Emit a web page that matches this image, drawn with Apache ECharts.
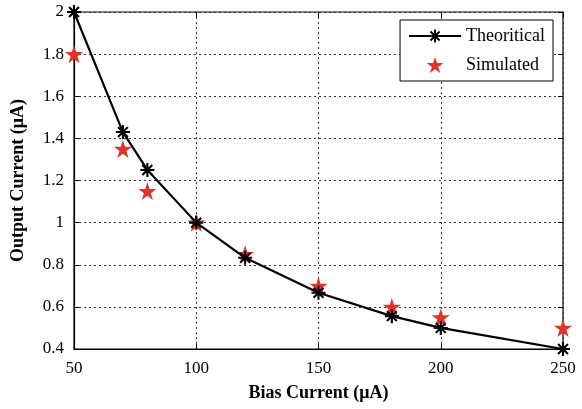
<!DOCTYPE html>
<html>
<head>
<meta charset="utf-8">
<script src="https://cdn.jsdelivr.net/npm/echarts@6/dist/echarts.min.js"></script>
<style>html,body{margin:0;padding:0;background:#fff}#c{width:582px;height:409px}</style>
</head>
<body>
<div id="c"></div>
<script>
const biasCurrent = [50, 70, 80, 100, 120, 150, 180, 200, 250];
const theoretical = [2.0, 1.43, 1.25, 1.0, 0.833, 0.667, 0.556, 0.5, 0.4];
const simulated = [1.8, 1.35, 1.15, 1.0, 0.85, 0.70, 0.60, 0.55, 0.50];
const xTicks = [50, 100, 150, 200, 250];
const yTicks = [0.4, 0.6, 0.8, 1, 1.2, 1.4, 1.6, 1.8, 2];

const asterisk = 'path://M-1.5,-10 L1.5,-10 L1.5,10 L-1.5,10 Z M-10,-1.5 L10,-1.5 L10,1.5 L-10,1.5 Z ' +
  'M-6,-8.1 L8.1,6 L6,8.1 L-8.1,-6 Z M-6,8.1 L-8.1,6 L6,-8.1 L8.1,-6 Z';
const star = 'path://M0,-100 L22.45,-30.9 L95.11,-30.9 L36.33,11.8 L58.78,80.9 L0,38.2 L-58.78,80.9 L-36.33,11.8 L-95.11,-30.9 L-22.45,-30.9 Z';

const font = 'Liberation Serif';
const chart = echarts.init(document.getElementById('c'), null, {renderer: 'canvas'});
const split = {show: true, lineStyle: {color: '#333', type: [2, 3], width: 1}};
const tick = {show: true, inside: true, length: 5, lineStyle: {color: '#000'}};
const label = {color: '#000', fontFamily: font, fontSize: 17};
chart.setOption({
  animation: false,
  grid: {left: 74, right: 19, top: 12, bottom: 60, show: true, borderColor: '#000', borderWidth: 1.2},
  legend: {
    right: 29, top: 20, orient: 'vertical', backgroundColor: '#fff',
    borderColor: '#000', borderWidth: 1, padding: [7, 8, 7, 8], itemGap: 11,
    itemWidth: 52, itemHeight: 16,
    textStyle: {color: '#000', fontFamily: font, fontSize: 18},
    data: ['Theoritical', 'Simulated']
  },
  xAxis: [{
    type: 'value', min: 50, max: 250, interval: 50,
    axisLine: {show: true, lineStyle: {color: '#000', width: 1.2}},
    axisTick: tick, splitLine: split,
    axisLabel: Object.assign({margin: 11}, label),
    name: 'Bias Current (μA)', nameLocation: 'middle', nameGap: 35,
    nameTextStyle: {color: '#000', fontFamily: font, fontSize: 18, fontWeight: 'bold'}
  }, {
    type: 'value', position: 'top', min: 50, max: 250, interval: 50,
    axisLine: {show: false}, axisTick: tick, axisLabel: {show: false}, splitLine: {show: false}
  }],
  yAxis: [{
    type: 'value', min: 0.4, max: 2, interval: 0.2,
    axisLine: {show: true, lineStyle: {color: '#000', width: 1.2}},
    axisTick: tick, splitLine: split,
    axisLabel: Object.assign({margin: 10, formatter: v => String(+v.toFixed(1))}, label),
    name: 'Output Current (μA)', nameLocation: 'middle', nameGap: 47,
    nameTextStyle: {color: '#000', fontFamily: font, fontSize: 18, fontWeight: 'bold'}
  }, {
    type: 'value', position: 'right', min: 0.4, max: 2, interval: 0.2,
    axisLine: {show: false}, axisTick: tick, axisLabel: {show: false}, splitLine: {show: false}
  }],
  series: [{
    name: 'Theoritical', type: 'line',
    data: biasCurrent.map((x, i) => [x, theoretical[i]]),
    lineStyle: {color: '#000', width: 2.2}, itemStyle: {color: '#000', opacity: 1},
    symbol: asterisk, symbolSize: 14, showAllSymbol: true, z: 3
  }, {
    name: 'Simulated', type: 'scatter',
    data: biasCurrent.map((x, i) => [x, simulated[i]]),
    itemStyle: {color: '#e2332a', opacity: 1}, symbol: star, symbolSize: 18, z: 2
  }]
});
</script>
</body>
</html>
